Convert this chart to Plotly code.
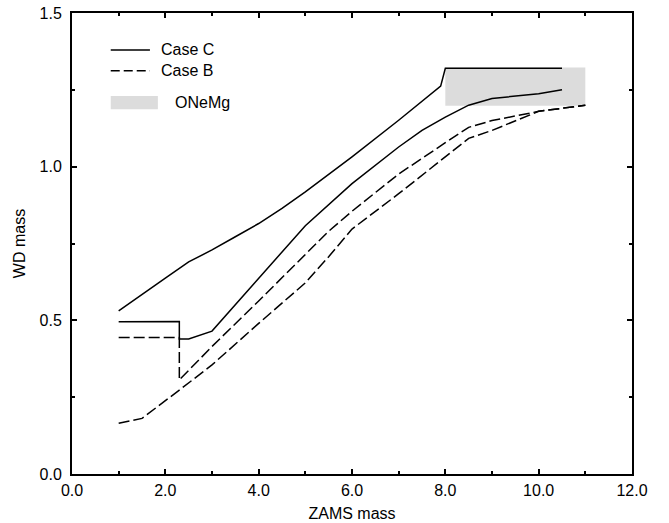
import plotly.graph_objects as go

# ---- data ----
caseC_upper_x = [1.0, 1.5, 2.0, 2.5, 3.0, 3.5, 4.0, 4.5, 5.0, 6.0, 7.0, 7.9, 8.0, 10.5]
caseC_upper_y = [0.531, 0.585, 0.637, 0.690, 0.729, 0.772, 0.815, 0.864, 0.918, 1.032, 1.151, 1.262, 1.320, 1.320]

caseC_lower_x = [1.0, 2.3, 2.3, 2.5, 3.0, 4.0, 5.0, 6.0, 7.0, 7.5, 8.0, 8.5, 9.0, 10.0, 10.5]
caseC_lower_y = [0.495, 0.496, 0.439, 0.439, 0.465, 0.635, 0.808, 0.945, 1.064, 1.118, 1.161, 1.200, 1.222, 1.237, 1.250]

caseB_upper_x = [1.0, 2.3, 2.3, 3.0, 4.0, 5.0, 5.5, 6.0, 7.0, 8.0, 8.5, 9.0, 10.0, 11.0]
caseB_upper_y = [0.444, 0.444, 0.306, 0.415, 0.563, 0.713, 0.790, 0.855, 0.976, 1.078, 1.128, 1.150, 1.180, 1.200]

caseB_lower_x = [1.0, 1.5, 2.3, 3.0, 4.0, 5.0, 5.5, 6.0, 7.0, 8.0, 8.5, 9.0, 10.0, 11.0]
caseB_lower_y = [0.165, 0.181, 0.273, 0.355, 0.490, 0.622, 0.707, 0.797, 0.912, 1.030, 1.092, 1.118, 1.180, 1.200]

onemg_x = [8.0, 11.0, 11.0, 8.0, 8.0]
onemg_y = [1.198, 1.198, 1.323, 1.323, 1.198]

legend_labels = ["Case C", "Case B", "ONeMg"]

x_ticks = [0, 2, 4, 6, 8, 10, 12]
y_ticks = [0.0, 0.5, 1.0, 1.5]

FONT = "Liberation Sans, Arial, sans-serif"
DASH = "11px,4px"
GREY = "#dcdcdc"

fig = go.Figure()

fig.add_trace(go.Scatter(x=onemg_x, y=onemg_y, fill="toself", fillcolor=GREY,
                         mode="lines", line=dict(width=0, color=GREY),
                         hoverinfo="skip", showlegend=False))

for xs, ys, dash in [(caseC_upper_x, caseC_upper_y, "solid"),
                     (caseC_lower_x, caseC_lower_y, "solid"),
                     (caseB_upper_x, caseB_upper_y, DASH),
                     (caseB_lower_x, caseB_lower_y, DASH)]:
    fig.add_trace(go.Scatter(x=xs, y=ys, mode="lines",
                             line=dict(color="black", width=1.5, dash=dash),
                             showlegend=False))

# legend (drawn manually)
shapes = [
    dict(type="line", xref="x", yref="y", x0=0.83, x1=1.67, y0=1.380, y1=1.380,
         line=dict(color="black", width=1.5)),
    dict(type="line", xref="x", yref="y", x0=0.83, x1=1.67, y0=1.312, y1=1.312,
         line=dict(color="black", width=1.5, dash="9px,4px")),
    dict(type="rect", xref="x", yref="y", x0=0.83, x1=1.84, y0=1.187, y1=1.230,
         fillcolor=GREY, line=dict(width=0)),
]
annotations = [
    dict(x=1.86, y=1.380, text=legend_labels[0], xanchor="left", yanchor="middle",
         showarrow=False, font=dict(family=FONT, size=16, color="black")),
    dict(x=1.86, y=1.312, text=legend_labels[1], xanchor="left", yanchor="middle",
         showarrow=False, font=dict(family=FONT, size=16, color="black")),
    dict(x=2.17, y=1.210, text=legend_labels[2], xanchor="left", yanchor="middle",
         showarrow=False, font=dict(family=FONT, size=16, color="black")),
]

fig.update_layout(
    width=669, height=523,
    margin=dict(l=72, r=37, t=13, b=49),
    paper_bgcolor="white", plot_bgcolor="white",
    font=dict(family=FONT, size=16, color="black"),
    shapes=shapes, annotations=annotations,
    showlegend=False,
)

fig.update_xaxes(
    range=[0, 12], tickvals=x_ticks, ticktext=[f"{v:.1f}" for v in x_ticks],
    showgrid=False, zeroline=False, automargin=False,
    showline=True, linecolor="black", linewidth=2, mirror="allticks",
    ticks="inside", ticklen=5, tickwidth=1.5, tickcolor="black",
    minor=dict(dtick=1, ticks="inside", ticklen=3, tickwidth=1.5, tickcolor="black", showgrid=False),
    title=dict(text="ZAMS mass", font=dict(size=16), standoff=10),
    tickfont=dict(size=16),
    ticklabelstandoff=1,
)
fig.update_yaxes(
    range=[0, 1.5], tickvals=y_ticks, ticktext=[f"{v:.1f}" for v in y_ticks],
    showgrid=False, zeroline=False, automargin=False,
    showline=True, linecolor="black", linewidth=2, mirror="allticks",
    ticks="inside", ticklen=5, tickwidth=1.5, tickcolor="black",
    minor=dict(dtick=0.25, ticks="inside", ticklen=3, tickwidth=1.5, tickcolor="black", showgrid=False),
    title=dict(text="WD mass", font=dict(size=16), standoff=10),
    tickfont=dict(size=16),
    ticklabelstandoff=5,
)

fig.write_html("out.html")
